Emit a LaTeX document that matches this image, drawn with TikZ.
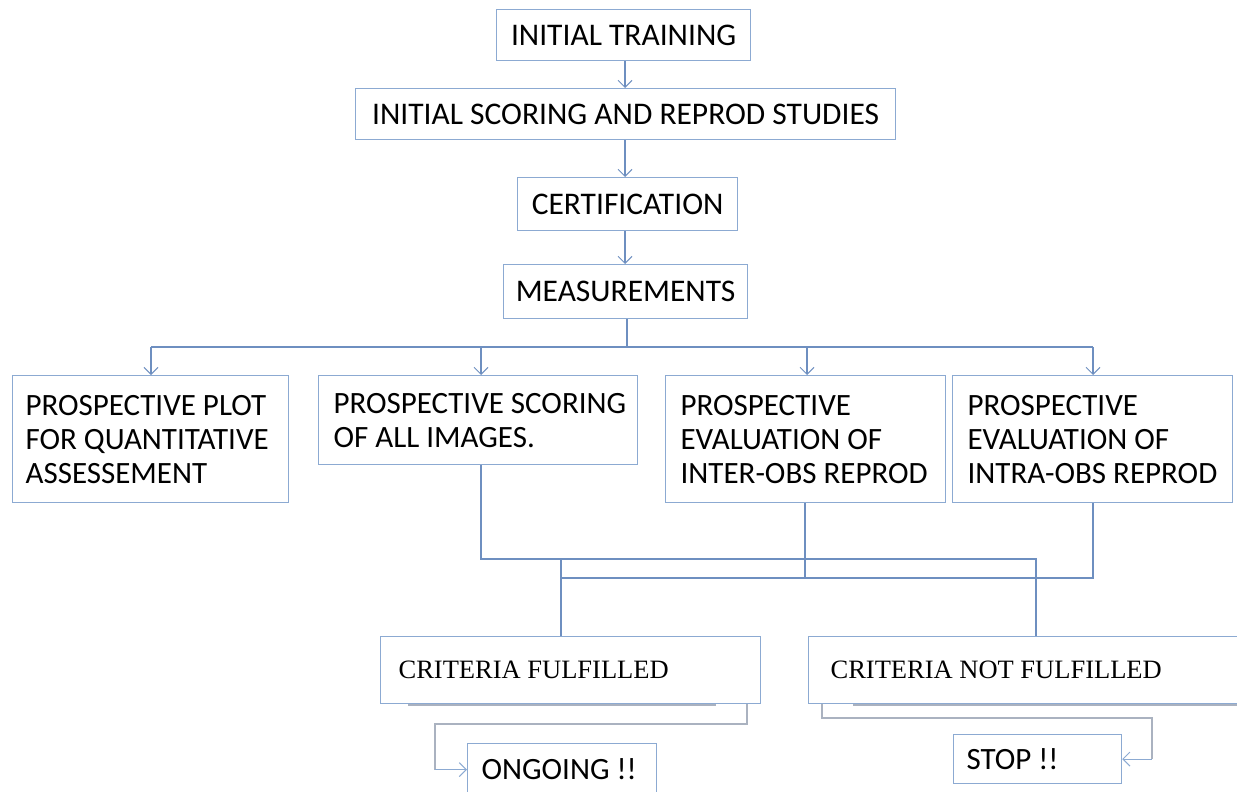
\documentclass[tikz,border=0pt]{standalone}
\usepackage{fontspec}
\setmainfont{Carlito}
\newfontfamily\critfont{Liberation Serif}
\usetikzlibrary{arrows.meta}
\definecolor{boxc}{RGB}{140,170,210}
\definecolor{linec}{RGB}{110,143,192}
\definecolor{greyc}{RGB}{170,178,192}
\newcommand{\ind}[1]{\hspace*{#1pt}}
\tikzset{
  box/.style={draw=boxc, line width=1.2pt, inner sep=0pt, anchor=north west, fill=white},
  lbox/.style={box, inner xsep=0pt, align=flush left},
  topfont/.style={font=\fontsize{31.5}{34}\selectfont},
  midfont/.style={font=\fontsize{31}{34}\selectfont},
  critbox/.style={font=\critfont\fontsize{26.5}{30}\selectfont},
  conn/.style={draw=linec, line width=1.1pt},
  greyconn/.style={draw=greyc, line width=1.3pt},
  arr/.style={-{Straight Barb[length=7pt,width=14pt,line width=1pt]}},
}
\begin{document}
\begin{tikzpicture}[x=1pt,y=-1pt]
\useasboundingbox (0,0) rectangle (1237,792);
\clip (0,0) rectangle (1237,792);

% top column
\node[box, topfont, minimum width=254pt, minimum height=51pt] (t1) at (496,9) {INITIAL TRAINING};
\node[box, topfont, minimum width=540pt, minimum height=51pt] (t2) at (355,88) {INITIAL SCORING AND REPROD STUDIES};
\node[box, topfont, minimum width=220pt, minimum height=53pt] (t3) at (517,177) {CERTIFICATION};
\node[box, topfont, minimum width=244pt, minimum height=54pt] (t4) at (503,264) {MEASUREMENTS};

% four branches
\node[lbox, midfont, minimum width=276pt, minimum height=127pt, text width=276pt] (pa) at (12,375)
  {\ind{13}PROSPECTIVE PLOT\\\ind{13}FOR QUANTITATIVE\\\ind{13}ASSESSEMENT};
\node[lbox, midfont, minimum width=319pt, minimum height=89pt, text width=319pt] (pb) at (318,375)
  {\ind{15}PROSPECTIVE SCORING\\\ind{15}OF ALL IMAGES.};
\node[lbox, midfont, minimum width=280pt, minimum height=127pt, text width=280pt] (pc) at (665,375)
  {\ind{15}PROSPECTIVE\\\ind{15}EVALUATION OF\\\ind{15}INTER-OBS REPROD};
\node[lbox, midfont, minimum width=280pt, minimum height=127pt, text width=280pt] (pd) at (952,375)
  {\ind{15}PROSPECTIVE\\\ind{15}EVALUATION OF\\\ind{15}INTRA-OBS REPROD};

% criteria
\node[lbox, critbox, minimum width=380pt, minimum height=67pt, text width=380pt] (cf) at (380,636)
  {\ind{18}CRITERIA FULFILLED};
\node[lbox, critbox, minimum width=440pt, minimum height=67pt, text width=440pt] (cnf) at (808,636)
  {\ind{22}CRITERIA NOT FULFILLED};

% outcomes
\node[lbox, midfont, minimum width=189pt, minimum height=52pt, text width=189pt] (og) at (467,743)
  {\ind{14}ONGOING !!};
\node[lbox, midfont, minimum width=168pt, minimum height=49pt, text width=168pt] (st) at (953,734)
  {\ind{13}STOP !!};

% coordinates for routing
\coordinate (bus) at (627,347);
\coordinate (busL) at (151,347);
\coordinate (busR) at (1093,347);
\coordinate (bB) at (481,559);
\coordinate (bR) at (1036,559);
\coordinate (cD) at (805,578);
\coordinate (dD) at (1093,578);
\coordinate (jL) at (561,578);
\coordinate (jT) at (561,559);
\coordinate (og1) at (747,724);
\coordinate (og2) at (435,724);
\coordinate (st1) at (822,718);
\coordinate (st2) at (1152,718);

% shadow edges
\draw[greyconn, line width=1.4pt] (408,705) -- (716,705);
\draw[greyconn, line width=1.4pt] (853,705) -- (1237,705);

% top arrows
\draw[conn, arr] (t1.south -| 625,0) -- (t2.north -| 625,0);
\draw[conn, arr] (t2.south -| 625,0) -- (t3.north -| 625,0);
\draw[conn, arr] (t3.south -| 625,0) -- (t4.north -| 625,0);

% measurement bus
\draw[conn] (t4.south -| bus) -- (bus);
\draw[conn] (busL) -- (busR);
\draw[conn, arr] (busL) -- (busL |- pa.north);
\draw[conn, arr] (481,347) -- (481,375);
\draw[conn, arr] (807,347) -- (807,375);
\draw[conn, arr] (busR) -- (busR |- pd.north);

% merging to criteria
\draw[conn] (pb.south -| bB) -- (bB) -- (bR) -- (bR |- cnf.north);
\draw[conn] (pc.south -| cD) -- (cD);
\draw[conn] (pd.south -| dD) -- (dD) -- (jL);
\draw[conn] (jT) -- (jT |- cf.north);

% outcomes
\draw[greyconn] (og1 |- cf.south) -- (og1) -- (og2) -- (og2 |- og.west);
\draw[conn, arr, draw=boxc] (og2 |- og.west) -- (og.west);
\draw[greyconn] (st1 |- cnf.south) -- (st1) -- (st2) -- (st2 |- st.east);
\draw[conn, arr, draw=boxc] (st2 |- st.east) -- (st.east);
\end{tikzpicture}
\end{document}
